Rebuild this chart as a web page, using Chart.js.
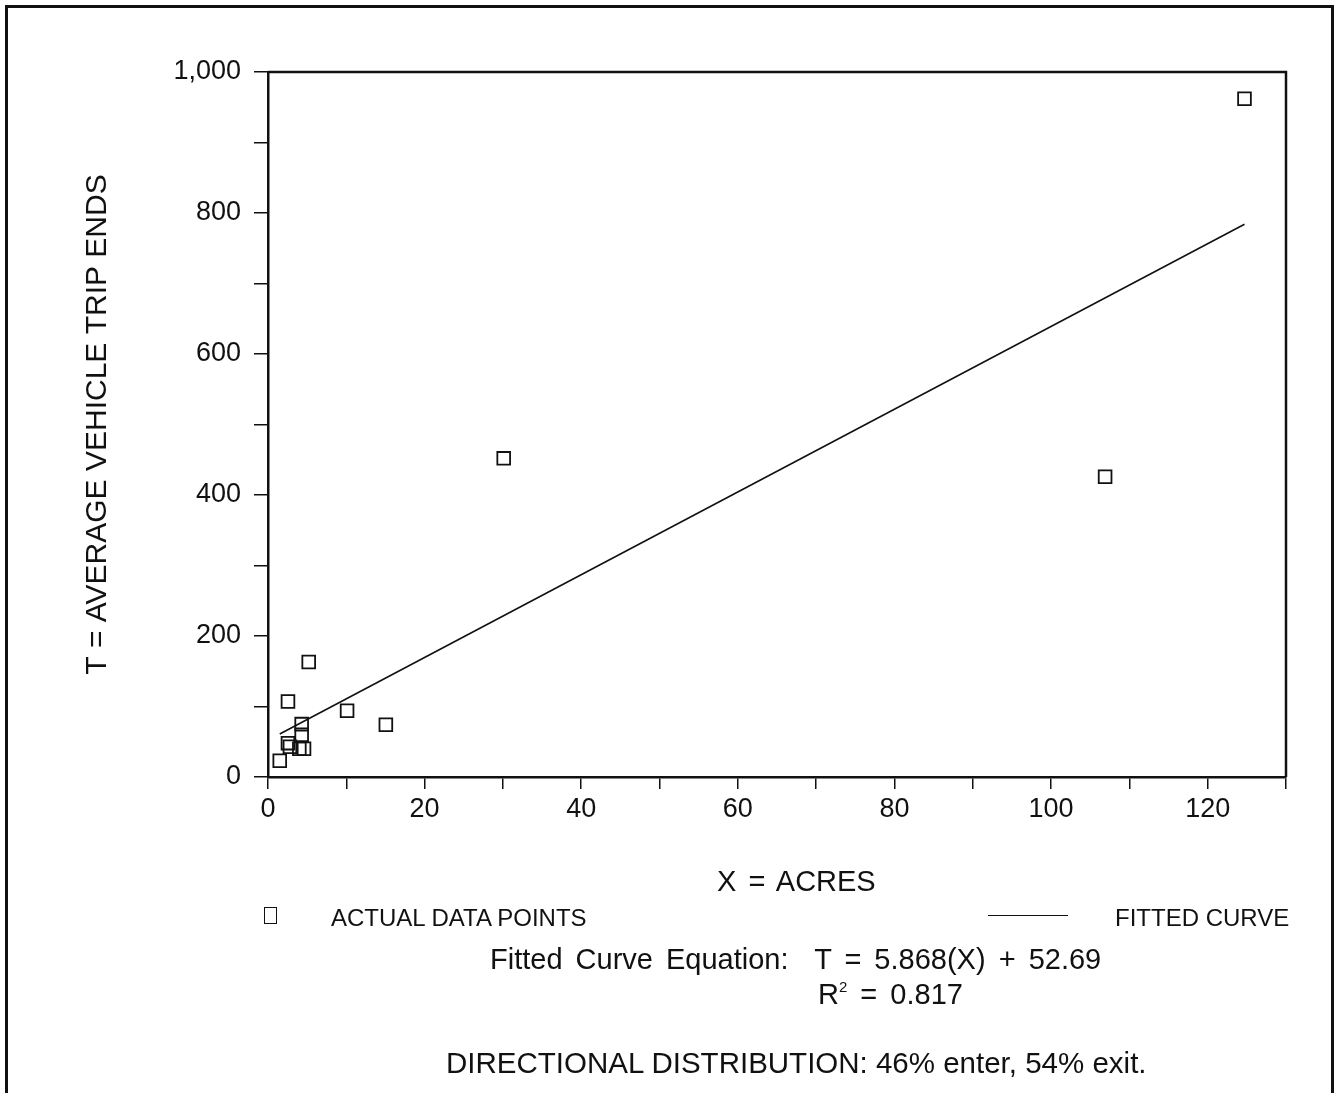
<!DOCTYPE html>
<html>
<head>
<meta charset="utf-8">
<script src="https://cdn.jsdelivr.net/npm/chart.js@4/dist/chart.umd.min.js"></script>
<style>
  html, body { margin: 0; padding: 0; background: #fff; }
  body { width: 1339px; height: 1093px; position: relative; overflow: hidden;
         font-family: "Liberation Sans", Arial, Helvetica, sans-serif; color: #111; }
  #frame { position: absolute; left: 5px; top: 5px; width: 1329px; height: 1200px;
           border: 3px solid #111; box-sizing: border-box; }
  #wrap { position: absolute; left: 0; top: 0; width: 1339px; height: 1093px; }
  .txt { position: absolute; white-space: nowrap; line-height: 1; }
  .lg-box { position: absolute; left: 264px; top: 907px; width: 13px; height: 17px;
            border: 1.5px solid #111; box-sizing: border-box; }
  .lg-line { position: absolute; left: 988px; top: 915px; width: 80px; height: 0;
             border-top: 1.5px solid #111; }
</style>
</head>
<body>
<div id="frame"></div>
<div id="wrap"><canvas id="chartTrips"></canvas></div>

<div class="txt" style="left:717px; top:867px; font-size:29px; word-spacing:4px;">X = ACRES</div>
<div class="lg-box"></div>
<div class="txt" style="left:331px; top:906px; font-size:24px;">ACTUAL DATA POINTS</div>
<div class="lg-line"></div>
<div class="txt" style="left:1115px; top:906px; font-size:24px;">FITTED CURVE</div>
<div class="txt" style="left:490px; top:945px; font-size:29px; word-spacing:5px;">Fitted Curve Equation:&nbsp; T = 5.868(X) + 52.69</div>
<div class="txt" style="left:818px; top:979px; font-size:29px; word-spacing:5px;">R<sup style="font-size:15px; vertical-align:12px;">2</sup> = 0.817</div>
<div class="txt" style="left:446px; top:1048px; font-size:29.5px;">DIRECTIONAL DISTRIBUTION: 46% enter, 54% exit.</div>

<script>
// actual data points
const acres = [124.7, 30.1, 106.9, 5.2, 2.55, 10.1, 15.05, 4.3, 4.3, 2.55, 2.8, 4.0, 4.6, 1.5];
const trips = [962, 452, 426, 163, 107, 94, 74, 75, 60, 48, 43, 40, 40, 23];

// fitted curve end points as drawn
const fitX = [1.5, 124.7];
const fitT = [61, 784];

const xTicksLabelled = [0, 20, 40, 60, 80, 100, 120];
const yTicksLabelled = [0, 200, 400, 600, 800, 1000];

const INK = '#111';
const FONT = '"Liberation Sans", Arial, Helvetica, sans-serif';

// box round the plot
const boxPlugin = {
  id: 'plotBox',
  afterDraw(chart) {
    const a = chart.chartArea, ctx = chart.ctx;
    ctx.save();
    ctx.strokeStyle = INK;
    ctx.lineWidth = 2.5;
    ctx.beginPath();
    ctx.moveTo(a.left, a.top);
    ctx.lineTo(a.right, a.top);
    ctx.lineTo(a.right, a.bottom);
    ctx.stroke();
    ctx.restore();
  }
};

const axisBase = {
  border: { display: true, color: INK, width: 2.5 },
  grid: { drawOnChartArea: false, drawTicks: true, tickLength: 14, tickColor: INK, lineWidth: 1.5 },
};

new Chart(document.getElementById('chartTrips'), {
  type: 'scatter',
  data: {
    datasets: [
      {
        label: 'ACTUAL DATA POINTS',
        data: acres.map((x, i) => ({ x, y: trips[i] })),
        pointStyle: 'rect',
        pointRadius: 9,
        pointBorderWidth: 1.8,
        borderColor: INK,
        backgroundColor: 'rgba(255,255,255,0)',
        showLine: false,
      },
      {
        label: 'FITTED CURVE',
        data: fitX.map((x, i) => ({ x, y: fitT[i] })),
        showLine: true,
        borderColor: INK,
        borderWidth: 1.6,
        pointRadius: 0,
        fill: false,
      }
    ]
  },
  options: {
    responsive: true,
    maintainAspectRatio: false,
    animation: false,
    layout: { padding: { left: 83, top: 72, right: 53, bottom: 197 } },
    plugins: { legend: { display: false }, tooltip: { enabled: false } },
    scales: {
      x: {
        ...axisBase,
        type: 'linear',
        min: 0, max: 130,
        afterFit(s) { s.height = 119; },
        grid: { ...axisBase.grid, tickLength: 12 },
        ticks: {
          stepSize: 10, color: INK, padding: 4, maxRotation: 0, autoSkip: false,
          font: { family: FONT, size: 27 },
          callback: v => xTicksLabelled.includes(v) ? String(v) : ''
        },
        title: { display: false }
      },
      y: {
        ...axisBase,
        type: 'linear',
        min: 0, max: 1000,
        afterFit(s) { s.width = 185; },
        ticks: {
          stepSize: 100, color: INK, padding: 13, autoSkip: false,
          font: { family: FONT, size: 27 },
          callback: v => yTicksLabelled.includes(v) ? v.toLocaleString('en-US') : ''
        },
        title: {
          display: true, text: 'T = AVERAGE VEHICLE TRIP ENDS', color: INK, padding: 0,
          font: { family: FONT, size: 30, lineHeight: 1 }
        }
      }
    }
  },
  plugins: [boxPlugin]
});
</script>
</body>
</html>
